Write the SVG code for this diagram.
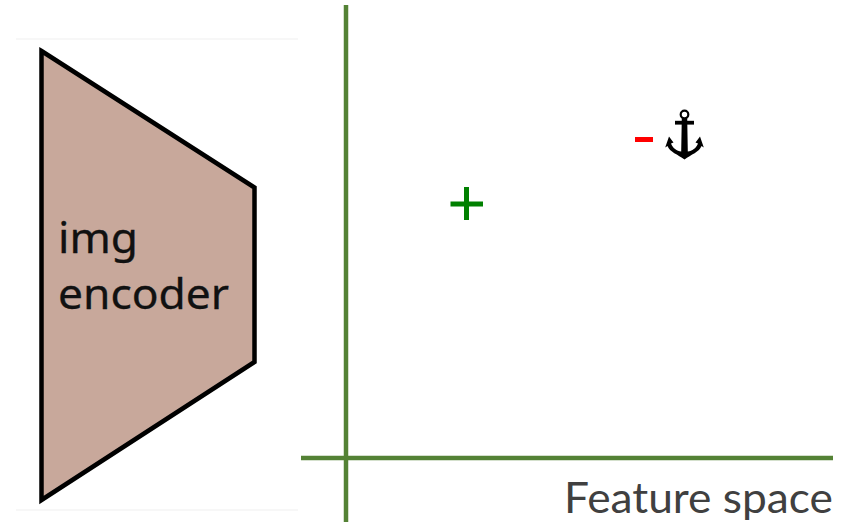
<svg xmlns="http://www.w3.org/2000/svg" width="861" height="522" viewBox="0 0 861 522">
<style>
.axis{stroke:#548235;stroke-width:4.500;fill:none}
.rule{stroke:#f7f7f7;stroke-width:2;fill:none}
.enc{font-family:"Noto Sans","Open Sans",sans-serif;font-size:41px;fill:#111;stroke:#111;stroke-width:.3}
</style>
<rect width="861" height="522" fill="#fff"/>
<line class="rule" x1="16" y1="39" x2="298" y2="39"/>
<line class="rule" x1="16" y1="510" x2="298" y2="510"/>
<g id="encoder">
<path d="M41.500 51 L254.500 187.500 V362 L41.500 500 Z" fill="#c8a89b" stroke="#000" stroke-width="4.500" stroke-linejoin="miter"/>
<text class="enc" x="58" y="253" textLength="80" lengthAdjust="spacingAndGlyphs">img</text>
<text class="enc" x="58" y="309" textLength="171" lengthAdjust="spacingAndGlyphs">encoder</text>
</g>
<g id="axes">
<line class="axis" x1="346" y1="5" x2="346" y2="522"/>
<line class="axis" x1="301" y1="458" x2="833" y2="458"/>
</g>
<g id="feature-label">
<text x="564" y="513" font-family="Lato,'Open Sans',sans-serif" font-size="42" fill="#404040" textLength="269" lengthAdjust="spacingAndGlyphs">Feature space</text>
</g>
<g id="positive">
<path d="M450.500 204 H483 M466.500 187 V220" stroke="#008000" stroke-width="5" fill="none"/>
</g>
<g id="negative">
<rect x="635" y="137" width="18" height="5" fill="#f00"/>
</g>
<g id="anchor">
<circle cx="684.500" cy="114.500" r="3.800" fill="none" stroke="#000" stroke-width="2.200"/>
<rect x="675" y="120.800" width="19" height="3.800" fill="#000"/>
<path d="M681.800 118 H687.200 L687.800 151.500 C692 151 696.500 148 698 143.500 L695.500 142.500 L700 136.500 L703.800 147.500 L701.500 146 C699.500 152 691 154.500 684.500 159.500 C678 154.500 669.500 152 667.500 146 L665.200 147.500 L669 136.500 L673.500 142.500 L671 143.500 C672.500 148 677 151 681.200 151.500 Z" fill="#000"/>
</g>
</svg>
